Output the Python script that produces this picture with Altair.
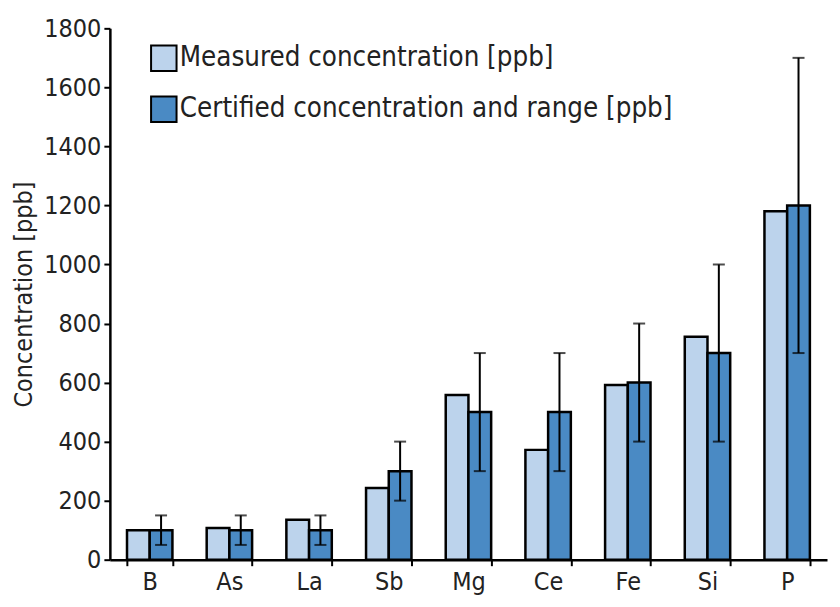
import altair as alt
import pandas as pd

elements = ["B", "As", "La", "Sb", "Mg", "Ce", "Fe", "Si", "P"]
measured = [100, 107, 135, 243, 558, 372, 592, 755, 1180]
certified = [100, 100, 100, 300, 500, 500, 600, 700, 1200]
cert_low = [50, 50, 50, 200, 300, 300, 400, 400, 700]
cert_high = [150, 150, 150, 400, 700, 700, 800, 1000, 1700]

series_names = ["Measured concentration [ppb]", "Certified concentration and range [ppb]"]
colors = ["#BCD3EC", "#4A8AC4"]

rows = []
for i, e in enumerate(elements):
    rows.append({"element": e, "series": series_names[0], "value": measured[i]})
    rows.append({"element": e, "series": series_names[1], "value": certified[i]})
bars_df = pd.DataFrame(rows)

err_df = pd.DataFrame({
    "element": elements,
    "series": [series_names[1]] * len(elements),
    "lo": cert_low,
    "hi": cert_high,
})

FONT = "Liberation Sans Narrow, DejaVu Sans Condensed, sans-serif"

x_enc = alt.X("element:N", sort=elements, title=None,
              scale=alt.Scale(paddingInner=0.43, paddingOuter=0.215),
              axis=alt.Axis(labelAngle=0, tickBand="extent", domainColor="black",
                            domainWidth=2.5, tickColor="black", tickWidth=2,
                            tickSize=6, labelPadding=4))
xoff = alt.XOffset("series:N", sort=series_names,
                   scale=alt.Scale(domain=series_names, paddingInner=0, paddingOuter=0))

bars = alt.Chart(bars_df).mark_bar(stroke="black", strokeWidth=2.5).encode(
    x=x_enc,
    xOffset=xoff,
    y=alt.Y("value:Q", title="Concentration [ppb]",
            scale=alt.Scale(domain=[0, 1800], nice=False),
            axis=alt.Axis(values=list(range(0, 1801, 200)), grid=False, format="d",
                          domainColor="black", domainWidth=2.5, tickColor="black",
                          tickWidth=2, tickSize=6, labelPadding=3, titlePadding=7)),
    color=alt.Color("series:N", sort=series_names,
                    scale=alt.Scale(domain=series_names, range=colors),
                    legend=alt.Legend(title=None, orient="none", legendX=40, legendY=16,
                                      symbolType="square", symbolSize=650,
                                      symbolStrokeColor="black", symbolStrokeWidth=2,
                                      labelFontSize=27.5, labelOffset=2, rowPadding=17,
                                      labelLimit=600)),
)

rules = alt.Chart(err_df).mark_rule(color="black", strokeWidth=2).encode(
    x=alt.X("element:N", sort=elements),
    xOffset=xoff,
    y="lo:Q",
    y2="hi:Q",
)
cap_lo = alt.Chart(err_df).mark_tick(color="black", thickness=2, size=12).encode(
    x=alt.X("element:N", sort=elements),
    xOffset=xoff,
    y="lo:Q",
)
cap_hi = alt.Chart(err_df).mark_tick(color="black", thickness=2, size=12).encode(
    x=alt.X("element:N", sort=elements),
    xOffset=xoff,
    y="hi:Q",
)

chart = alt.layer(bars, rules, cap_lo, cap_hi).properties(
    width=718, height=532,
    padding={"left": 3, "top": 8, "right": 5, "bottom": 5},
).configure_view(stroke=None).configure_axis(
    labelFont=FONT, titleFont=FONT, labelFontSize=25, titleFontSize=25,
    labelColor="#222", titleColor="#222", titleFontWeight="normal",
).configure_legend(labelFont=FONT, labelColor="#222")

chart.save("out.html", embed_options={"renderer": "svg", "actions": False})
